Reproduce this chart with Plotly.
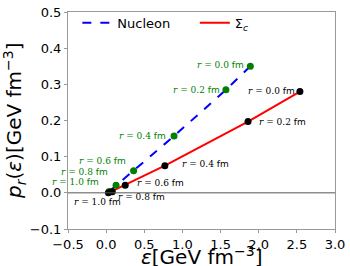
import plotly.graph_objects as go

radii = ["0.0", "0.2", "0.4", "0.6", "0.8", "1.0"]
nuc_eps = [1.89, 1.57, 0.89, 0.36, 0.13, 0.04]
nuc_p = [0.350, 0.285, 0.157, 0.061, 0.021, 0.004]
sig_eps = [2.54, 1.86, 0.77, 0.25, 0.08, 0.03]
sig_p = [0.280, 0.197, 0.075, 0.021, 0.003, 0.000]
x_ticks = [-0.5, 0.0, 0.5, 1.0, 1.5, 2.0, 2.5, 3.0]
y_ticks = [-0.1, 0.0, 0.1, 0.2, 0.3, 0.4, 0.5]

fig = go.Figure()
fig.add_trace(go.Scatter(x=nuc_eps, y=nuc_p, mode="lines", name="Nucleon", legend="legend",
                         line=dict(color="blue", width=2, dash="dash")))
fig.add_trace(go.Scatter(x=sig_eps, y=sig_p, mode="lines", name="Σ<sub><i>c</i></sub>", legend="legend2",
                         line=dict(color="red", width=2)))
fig.add_trace(go.Scatter(x=nuc_eps, y=nuc_p, mode="markers", showlegend=False,
                         marker=dict(color="green", size=7)))
fig.add_trace(go.Scatter(x=sig_eps, y=sig_p, mode="markers", showlegend=False,
                         marker=dict(color="black", size=7)))

def lab(r):
    return "<span style='font-family:DejaVu Serif'><i>r</i> = " + r + "</span> fm"

nuc_off = [(-4, 1, "right"), (-4, 0, "right"), (-6, 0, "right"),
           (-6, 10, "right"), (-6, 13, "right"), (-8, 9, "right")]
sig_off = [(-3, 1, "right"), (9, 0, "left"), (15, 2, "left"),
           (10, 2, "left"), (4, -5, "left"), (-36, -9, "left")]

for i, r in enumerate(radii):
    dx, dy, anc = nuc_off[i]
    fig.add_annotation(x=nuc_eps[i], y=nuc_p[i], text=lab(r), showarrow=False,
                       xanchor=anc, yanchor="middle", xshift=dx, yshift=dy,
                       font=dict(size=9, color="green", family="DejaVu Sans"))
    dx, dy, anc = sig_off[i]
    fig.add_annotation(x=sig_eps[i], y=sig_p[i], text=lab(r), showarrow=False,
                       xanchor=anc, yanchor="middle", xshift=dx, yshift=dy,
                       font=dict(size=9, color="black", family="DejaVu Sans"))

fig.add_shape(type="line", xref="paper", x0=0, x1=1, yref="y", y0=0, y1=0,
              line=dict(color="#555555", width=1))

fig.add_annotation(xref="paper", yref="paper", x=0.5, y=0, yshift=-42,
                   xanchor="center", yanchor="bottom", showarrow=False,
                   text="<i>ε</i>[GeV fm<sup>−3</sup>]",
                   font=dict(size=20, color="black", family="DejaVu Sans"))
fig.add_annotation(xref="paper", yref="paper", x=0, y=0.5, xshift=-37,
                   xanchor="right", yanchor="middle", showarrow=False, textangle=-90,
                   text="<i>p</i><sub><i>r</i></sub>(<i>ε</i>)[GeV fm<sup>−3</sup>]",
                   font=dict(size=20, color="black", family="DejaVu Sans"))

axis_common = dict(showgrid=False, zeroline=False, showline=True, mirror=True,
                   linecolor="#999999", linewidth=1, ticks="outside", ticklen=3,
                   tickcolor="#999999", ticklabeloverflow="allow",
                   tickfont=dict(size=13, color="black", family="DejaVu Sans"))

leg_common = dict(orientation="h", yanchor="middle", xanchor="left", y=0.95,
                  bgcolor="rgba(255,255,255,0)",
                  font=dict(size=13, color="black", family="DejaVu Sans"))

fig.update_layout(
    width=350, height=266,
    margin=dict(l=68, r=10, t=5, b=37),
    plot_bgcolor="white", paper_bgcolor="white",
    xaxis=dict(range=[-0.5, 3.0], tickvals=x_ticks, ticktext=[f"{v:.1f}".replace("-", "−") for v in x_ticks],
               **axis_common),
    yaxis=dict(range=[-0.1, 0.5], tickvals=y_ticks, ticktext=[f"{v:.1f}".replace("-", "−") for v in y_ticks],
               **axis_common),
    legend=dict(x=0.035, **leg_common),
    legend2=dict(x=0.475, **leg_common),
    showlegend=True,
)

fig.write_html("out.html", config={"displayModeBar": False},
               post_script="document.body.style.margin='0';document.body.style.padding='0';")
